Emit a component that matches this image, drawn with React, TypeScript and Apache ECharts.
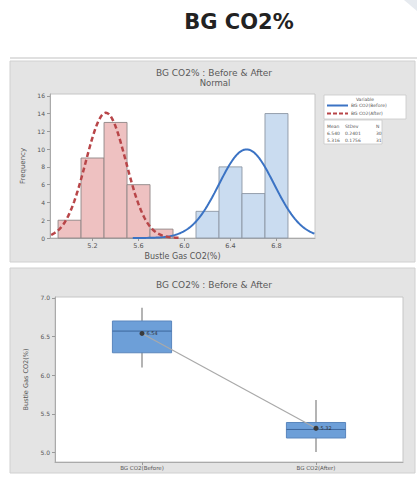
import React, { useEffect, useRef } from "react";
import * as echarts from "echarts";

// ---------- data ----------
const histXTicks = [5.2, 5.6, 6.0, 6.4, 6.8];
const histYTicks = [0, 2, 4, 6, 8, 10, 12, 14, 16];
const binWidth = 0.2;
const afterBinStart = [4.9, 5.1, 5.3, 5.5, 5.7];
const afterCounts = [2, 9, 13, 6, 1];
const beforeBinStart = [6.1, 6.3, 6.5, 6.7];
const beforeCounts = [3, 8, 5, 14];

const statNames = ["BG CO2(Before)", "BG CO2(After)"];
const statMean = [6.54, 5.316];
const statSd = [0.2401, 0.1756];
const statN = [30, 31];

const boxCategories = ["BG CO2(Before)", "BG CO2(After)"];
const boxMin = [6.1, 5.01];
const boxQ1 = [6.29, 5.19];
const boxMedian = [6.57, 5.3];
const boxQ3 = [6.7, 5.39];
const boxMax = [6.87, 5.68];
const boxMean = [6.54, 5.316];
const boxYTicks = [5.0, 5.5, 6.0, 6.5, 7.0];

const FONT = "DejaVu Sans";

function normalCurve(mean: number, sd: number, n: number, from: number, to: number) {
  const pts: number[][] = [];
  for (let x = from; x <= to + 1e-9; x += 0.01) {
    const y = (n * binWidth) / (sd * Math.sqrt(2 * Math.PI)) * Math.exp(-0.5 * ((x - mean) / sd) ** 2);
    pts.push([+x.toFixed(3), y]);
  }
  return pts;
}

export default function App() {
  const ref = useRef<HTMLDivElement>(null);
  useEffect(() => {
    if (!ref.current) return;
    const chart = echarts.init(ref.current, undefined, { renderer: "svg" });

    const histData = [
      ...afterBinStart.map((s, i) => [s, s + binWidth, afterCounts[i], 1]),
      ...beforeBinStart.map((s, i) => [s, s + binWidth, beforeCounts[i], 0]),
    ];
    const boxData = boxCategories.map((_, i) => [i, boxMin[i], boxQ1[i], boxMedian[i], boxQ3[i], boxMax[i]]);

    const axisLabelBase = { fontSize: 6.5, color: "#555", fontFamily: FONT };
    const option: any = {
      animation: false,
      backgroundColor: "#ffffff",
      graphic: [
        { type: "polygon", shape: { points: [[404, 0], [417, 0], [417, 11]] }, style: { fill: "#e6eaef" }, z: -10 },
        { type: "text", x: 239, y: 22, style: { text: "BG CO2%", fontSize: 21, fontWeight: "bold", fontFamily: FONT, fill: "#222", align: "center", verticalAlign: "middle" } },
        { type: "line", shape: { x1: 10, y1: 58, x2: 417, y2: 58 }, style: { stroke: "#d6d6d6", lineWidth: 1.5 } },
        { type: "rect", shape: { x: 10, y: 61, width: 405, height: 201 }, style: { fill: "#e4e4e4", stroke: "#d0d0d0", lineWidth: 1 }, z: -5 },
        { type: "rect", shape: { x: 10, y: 268, width: 405, height: 205 }, style: { fill: "#e4e4e4", stroke: "#d0d0d0", lineWidth: 1 }, z: -5 },
        { type: "text", x: 214, y: 73, style: { text: "BG CO2% : Before & After", fontSize: 9, fontFamily: FONT, fill: "#5a5a5a", align: "center", verticalAlign: "middle" } },
        { type: "text", x: 215, y: 83, style: { text: "Normal", fontSize: 8.5, fontFamily: FONT, fill: "#5a5a5a", align: "center", verticalAlign: "middle" } },
        { type: "text", x: 214, y: 285, style: { text: "BG CO2% : Before & After", fontSize: 9, fontFamily: FONT, fill: "#5a5a5a", align: "center", verticalAlign: "middle" } },
        // legend box
        { type: "rect", shape: { x: 324, y: 95, width: 82, height: 24 }, style: { fill: "#fff", stroke: "#c8c8c8", lineWidth: 0.8 } },
        { type: "text", x: 365, y: 99.5, style: { text: "Variable", fontSize: 4.5, fontFamily: FONT, fill: "#555", align: "center", verticalAlign: "middle" } },
        { type: "line", shape: { x1: 327, y1: 105.5, x2: 348, y2: 105.5 }, style: { stroke: "#3b73c4", lineWidth: 2 } },
        { type: "text", x: 351, y: 105.5, style: { text: statNames[0], fontSize: 4.5, fontFamily: FONT, fill: "#555", verticalAlign: "middle" } },
        { type: "line", shape: { x1: 327, y1: 113.5, x2: 348, y2: 113.5 }, style: { stroke: "#b84548", lineWidth: 2, lineDash: [4, 2] } },
        { type: "text", x: 351, y: 113.5, style: { text: statNames[1], fontSize: 4.5, fontFamily: FONT, fill: "#555", verticalAlign: "middle" } },
        // stats table
        { type: "rect", shape: { x: 324, y: 120, width: 58, height: 24 }, style: { fill: "#fff", stroke: "#c8c8c8", lineWidth: 0.8 } },
        ...[
          ["Mean", "StDev", "N"],
          [statMean[0].toFixed(3), statSd[0].toFixed(4), String(statN[0])],
          [statMean[1].toFixed(3), statSd[1].toFixed(4), String(statN[1])],
        ].flatMap((row, r) =>
          row.map((t, c) => ({
            type: "text",
            x: [327, 345, 376][c],
            y: 126 + r * 7,
            style: { text: t, fontSize: 4.5, fontFamily: FONT, fill: "#555", verticalAlign: "middle" },
          }))
        ),
      ],
      grid: [
        { left: 50, top: 94, width: 265, height: 144, show: true, backgroundColor: "#fff", borderColor: "#c6c6c6", borderWidth: 1 },
        { left: 55, top: 297, width: 348, height: 165, show: true, backgroundColor: "#fff", borderColor: "#c6c6c6", borderWidth: 1 },
      ],
      xAxis: [
        {
          gridIndex: 0, type: "value", min: 4.83, max: 7.135,
          splitLine: { show: false },
          axisLine: { show: true, lineStyle: { color: "#aaa" } },
          axisTick: { show: true, length: 3, customValues: histXTicks, lineStyle: { color: "#999" } },
          axisLabel: { ...axisLabelBase, margin: 4, customValues: histXTicks, formatter: (v: number) => v.toFixed(1) },
          name: "Bustle Gas CO2(%)", nameLocation: "middle", nameGap: 14,
          nameTextStyle: { fontSize: 8, color: "#555", fontFamily: FONT },
        },
        {
          gridIndex: 1, type: "category", data: boxCategories, boundaryGap: true,
          axisLine: { show: true, lineStyle: { color: "#aaa" } },
          axisTick: { show: true, alignWithLabel: true, length: 3, lineStyle: { color: "#999" } },
          axisLabel: { fontSize: 5.5, color: "#555", fontFamily: FONT, margin: 3 },
          splitLine: { show: false },
        },
      ],
      yAxis: [
        {
          gridIndex: 0, type: "value", min: 0, max: 16.2,
          splitLine: { show: false },
          axisLine: { show: true, lineStyle: { color: "#aaa" } },
          axisTick: { show: true, length: 3, customValues: histYTicks, lineStyle: { color: "#999" } },
          axisLabel: { ...axisLabelBase, fontSize: 6, margin: 5, customValues: histYTicks },
          name: "Frequency", nameLocation: "middle", nameGap: 18,
          nameTextStyle: { fontSize: 7, color: "#555", fontFamily: FONT },
        },
        {
          gridIndex: 1, type: "value", min: 4.88, max: 7.01,
          splitLine: { show: false },
          axisLine: { show: true, lineStyle: { color: "#aaa" } },
          axisTick: { show: true, length: 3, customValues: boxYTicks, lineStyle: { color: "#999" } },
          axisLabel: { ...axisLabelBase, fontSize: 6, margin: 5, customValues: boxYTicks, formatter: (v: number) => v.toFixed(1) },
          name: "Bustle Gas CO2(%)", nameLocation: "middle", nameGap: 23,
          nameTextStyle: { fontSize: 6.5, color: "#555", fontFamily: FONT },
        },
      ],
      series: [
        {
          type: "custom", xAxisIndex: 0, yAxisIndex: 0, data: histData,
          renderItem: (params: any, api: any) => {
            const p1 = api.coord([api.value(0), api.value(2)]);
            const p2 = api.coord([api.value(1), 0]);
            const isAfter = api.value(3) === 1;
            return {
              type: "rect",
              shape: { x: p1[0], y: p1[1], width: p2[0] - p1[0], height: p2[1] - p1[1] },
              style: { fill: isAfter ? "#eec1c1" : "#cadcf0", stroke: isAfter ? "#8e8686" : "#8c96a4", lineWidth: 0.9 },
            };
          },
          z: 2,
        },
        {
          type: "line", xAxisIndex: 0, yAxisIndex: 0,
          data: normalCurve(statMean[0], statSd[0], statN[0], 5.55, 7.135),
          showSymbol: false, lineStyle: { color: "#3b73c4", width: 2 }, z: 3,
        },
        {
          type: "line", xAxisIndex: 0, yAxisIndex: 0,
          data: normalCurve(statMean[1], statSd[1], statN[1], 4.84, 5.95),
          showSymbol: false, lineStyle: { color: "#b84548", width: 2.5, type: [5, 3] }, z: 4,
        },
        {
          type: "custom", xAxisIndex: 1, yAxisIndex: 1, data: boxData,
          renderItem: (params: any, api: any) => {
            const c = api.value(0);
            const pMin = api.coord([c, api.value(1)]);
            const pQ1 = api.coord([c, api.value(2)]);
            const pMed = api.coord([c, api.value(3)]);
            const pQ3 = api.coord([c, api.value(4)]);
            const pMax = api.coord([c, api.value(5)]);
            const bw = api.size([1, 0])[0] * 0.34;
            const x0 = pQ1[0] - bw / 2;
            return {
              type: "group",
              children: [
                { type: "line", shape: { x1: pMin[0], y1: pMin[1], x2: pMax[0], y2: pMax[1] }, style: { stroke: "#b4b4b4", lineWidth: 2 } },
                { type: "rect", shape: { x: x0, y: pQ3[1], width: bw, height: pQ1[1] - pQ3[1] }, style: { fill: "#6d9fd8", stroke: "#5a86bd", lineWidth: 1 } },
                { type: "line", shape: { x1: x0, y1: pMed[1], x2: x0 + bw, y2: pMed[1] }, style: { stroke: "#3d679c", lineWidth: 1 } },
              ],
            };
          },
          z: 2,
        },
        {
          type: "line", xAxisIndex: 1, yAxisIndex: 1, data: boxMean,
          symbol: "circle", symbolSize: 5,
          lineStyle: { color: "#a9a9a9", width: 1.2 },
          itemStyle: { color: "#3a3a3a" },
          label: { show: true, position: "right", distance: 2, fontSize: 5, color: "#333", fontFamily: FONT, formatter: (p: any) => Number(p.value).toFixed(2) },
          z: 5,
        },
      ],
    };
    chart.setOption(option);
    return () => chart.dispose();
  }, []);
  return (
    <div
      ref={ref}
      style={{ position: "fixed", left: 0, top: 0, width: 417, height: 478, background: "#fff" }}
    />
  );
}
